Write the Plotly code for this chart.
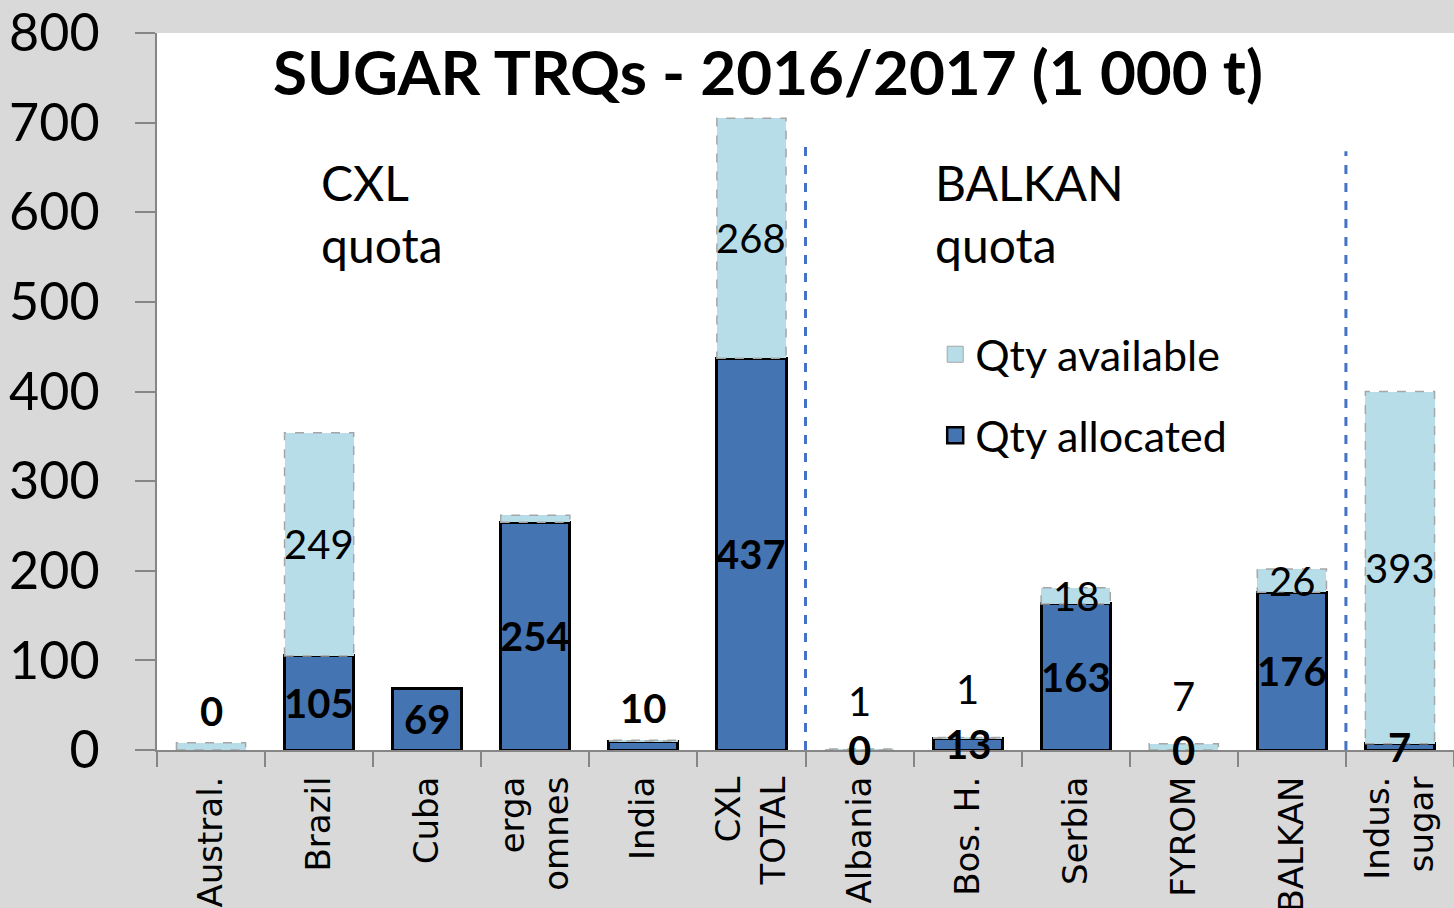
import plotly.graph_objects as go

# ---- data ----
categories = ["Austral.", "Brazil", "Cuba", "erga<br>omnes", "India", "CXL<br>TOTAL",
              "Albania", "Bos. H.", "Serbia", "FYROM", "BALKAN", "Indus.<br>sugar"]
qty_allocated = [0, 105, 69, 254, 10, 437, 0, 13, 163, 0, 176, 7]
qty_available = [8, 249, 0, 8, 1, 268, 1, 1, 18, 7, 26, 393]
y_ticks = [0, 100, 200, 300, 400, 500, 600, 700, 800]

# label placement styles (not data)
alloc_label_mode = ["above", "mid", "mid", "mid", "above", "mid", "mid", "mid", "mid", "mid", "mid", "mid"]
avail_label_mode = ["hide", "mid", "hide", "hide", "hide", "mid", "above", "above", "mid", "above", "mid", "mid"]

FONT = "Lato"
DARK = "#4474b2"
LIGHT = "#b7dde8"
BAR_W = 0.64

fig = go.Figure()
fig.add_trace(go.Bar(
    x=categories, y=qty_allocated, name="Qty allocated",
    marker=dict(color=DARK, line=dict(color="#000000", width=3)),
    width=BAR_W, showlegend=False,
))
fig.add_trace(go.Bar(
    x=categories, y=qty_available, name="Qty available",
    marker=dict(color=LIGHT, line=dict(color="#a6a6a6", width=0)),
    width=BAR_W, showlegend=False,
))
# legend entries
fig.add_trace(go.Scatter(x=[categories[0]], y=[None], mode="markers", name="Qty available",
                         legendgroup="a",
                         marker=dict(symbol="square", size=16, color=LIGHT,
                                     line=dict(color="#a6a6a6", width=1))))
fig.add_trace(go.Scatter(x=[categories[0]], y=[None], mode="markers", name="Qty allocated",
                         legendgroup="b",
                         marker=dict(symbol="square", size=16, color=DARK,
                                     line=dict(color="#000000", width=2.5))))

shapes = []
annotations = []
for i, (a, v) in enumerate(zip(qty_allocated, qty_available)):
    if v > 0:
        shapes.append(dict(type="rect", xref="x", yref="y",
                           x0=i - BAR_W / 2, x1=i + BAR_W / 2, y0=a, y1=a + v,
                           line=dict(color="#a6a6a6", width=1.5, dash="dash"),
                           fillcolor="rgba(0,0,0,0)", layer="above"))
    if alloc_label_mode[i] == "mid":
        annotations.append(dict(x=i, y=a / 2, xref="x", yref="y", text=str(a),
                                showarrow=False, yanchor="middle",
                                font=dict(family=FONT, size=40, color="#000000", weight="bold")))
    elif alloc_label_mode[i] == "above":
        annotations.append(dict(x=i, y=a + v, xref="x", yref="y", text=str(a),
                                showarrow=False, yanchor="bottom", yshift=6,
                                font=dict(family=FONT, size=40, color="#000000", weight="bold")))
    if avail_label_mode[i] == "mid":
        annotations.append(dict(x=i, y=a + v / 2, xref="x", yref="y", text=str(v),
                                showarrow=False, yanchor="middle",
                                font=dict(family=FONT, size=40, color="#000000")))
    elif avail_label_mode[i] == "above":
        annotations.append(dict(x=i, y=a + v, xref="x", yref="y", text=str(v),
                                showarrow=False, yanchor="bottom", yshift=22,
                                font=dict(family=FONT, size=40, color="#000000")))

# group separators
for xs, ytop in [(5.5, 682), (10.5, 668)]:
    shapes.append(dict(type="line", xref="x", yref="y", x0=xs, x1=xs, y0=0, y1=ytop,
                       line=dict(color="#4472c4", width=3, dash="dash")))

annotations.append(dict(x=0.471, y=1, xref="paper", yref="paper", yanchor="top", yshift=1,
                        text="<b>SUGAR TRQs - 2016/2017 (1 000 t)</b>",
                        showarrow=False, font=dict(family=FONT, size=62, color="#000000")))
annotations.append(dict(x=1.0, y=667, xref="x", yref="y", text="CXL<br>quota", xanchor="left",
                        yanchor="top", align="left", showarrow=False,
                        font=dict(family=FONT, size=48, color="#000000")))
annotations.append(dict(x=6.68, y=667, xref="x", yref="y", text="BALKAN<br>quota", xanchor="left",
                        yanchor="top", align="left", showarrow=False,
                        font=dict(family=FONT, size=48, color="#000000")))

fig.update_layout(
    width=1454, height=908,
    barmode="stack",
    paper_bgcolor="#d9d9d9", plot_bgcolor="#ffffff",
    margin=dict(l=157, r=0, t=33, b=158, autoexpand=False),
    showlegend=True,
    legend=dict(x=0.6, y=0.6, xanchor="left", yanchor="top", traceorder="grouped",
                bgcolor="rgba(0,0,0,0)", font=dict(family=FONT, size=43, color="#000000"),
                itemwidth=30, tracegroupgap=22),
    shapes=shapes, annotations=annotations,
    xaxis=dict(type="category", categoryorder="array", categoryarray=categories,
               range=[-0.5, len(categories) - 0.5], tickangle=-90, automargin=False,
               tickson="boundaries",
               showline=True, linecolor="#868686", linewidth=2,
               ticks="outside", ticklen=15, tickcolor="#868686", tickwidth=2,
               showgrid=False, zeroline=False, ticklabelstandoff=11,
               tickfont=dict(family="DejaVu Sans", size=34, color="#000000")),
    yaxis=dict(range=[0, 800], tickvals=y_ticks, ticktext=[str(t) for t in y_ticks],
               showline=True, linecolor="#868686", linewidth=2, automargin=False,
               ticks="outside", ticklen=20, tickcolor="#868686", tickwidth=2,
               showgrid=False, zeroline=False, ticklabelstandoff=25,
               tickfont=dict(family=FONT, size=52, color="#000000")),
    bargap=0.36,
)

fig.write_html("out.html", config={"displayModeBar": False},
               post_script="document.body.style.margin='0';document.body.style.overflow='hidden';")
